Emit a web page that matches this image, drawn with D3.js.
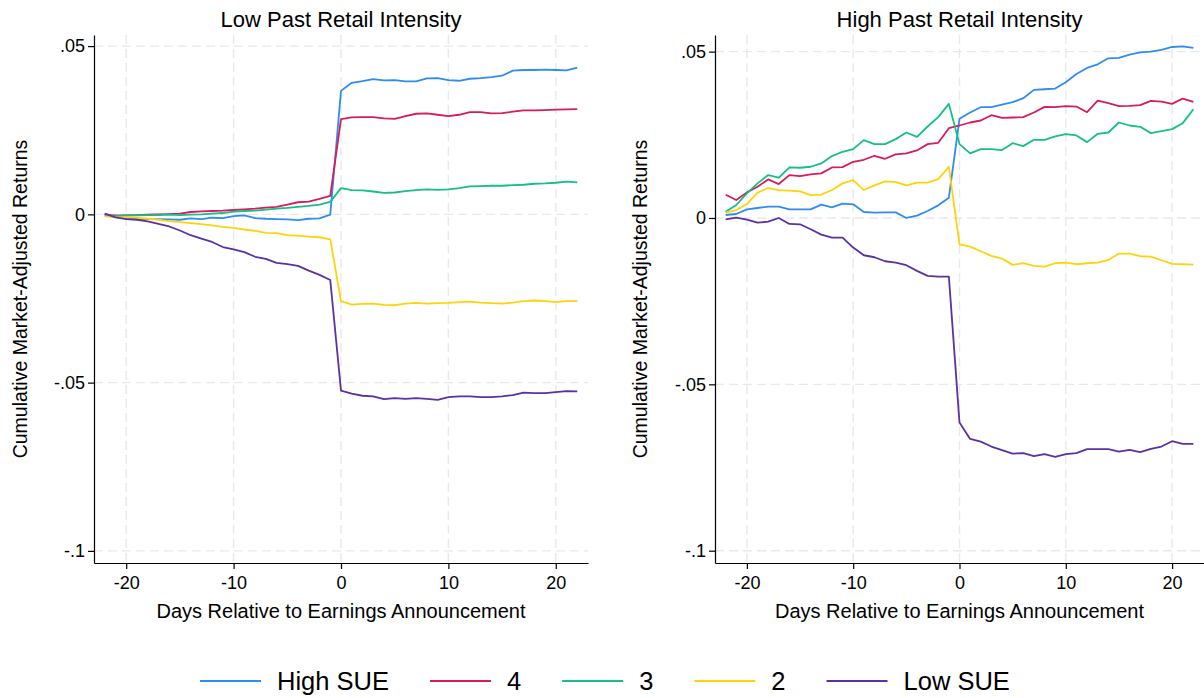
<!DOCTYPE html>
<html>
<head>
<meta charset="utf-8">
<script src="https://cdn.jsdelivr.net/npm/d3@7"></script>
<style>
  body { margin: 0; background: #fff; }
  svg { display: block; font-family: "Liberation Sans", Arial, sans-serif; }
  .grid line { stroke: #e9e9e9; stroke-width: 1.4; stroke-dasharray: 9,5; }
  .axis path, .axis line { stroke: #000; stroke-width: 1.2; }
  .axis text { font-size: 18px; fill: #000; }
  .series { fill: none; stroke-width: 1.8; stroke-linejoin: round; }
</style>
</head>
<body>
<svg id="chart" width="1204" height="698"></svg>
<script>
// days relative to announcement
var days = [-22, -21, -20, -19, -18, -17, -16, -15, -14, -13, -12, -11, -10, -9, -8, -7, -6, -5, -4, -3, -2, -1,
  0, 1, 2, 3, 4, 5, 6, 7, 8, 9, 10, 11, 12, 13, 14, 15, 16, 17, 18, 19, 20, 21, 22];

var xTicks = [-20, -10, 0, 10, 20];
var xTickLabels = ["-20", "-10", "0", "10", "20"];
var yTicks = [0.05, 0, -0.05, -0.1];
var yTickLabels = [".05", "0", "-.05", "-.1"];

var groups = ["High SUE", "4", "3", "2", "Low SUE"];
var colors = ["#2f8cf5", "#d81b5c", "#16bf84", "#ffd30a", "#5b31a3"];

// low past retail intensity
var lowHigh = [0.0002, -0.0008, -0.0011, -0.0013, -0.0014, -0.0014, -0.0015, -0.0016, -0.0012, -0.0014, -0.0010, -0.0011, -0.0005, -0.0003, -0.0011, -0.0013, -0.0014, -0.0015, -0.0017, -0.0013, -0.0012, -0.0001,
  0.0367, 0.0391, 0.0396, 0.0402, 0.0398, 0.0399, 0.0395, 0.0395, 0.0404, 0.0405, 0.0399, 0.0397, 0.0403, 0.0405, 0.0408, 0.0412, 0.0427, 0.0429, 0.0429, 0.0430, 0.0429, 0.0428, 0.0436];
var low4 = [-0.0002, -0.0003, -0.0003, -0.0002, -0.0001, 0.0000, 0.0001, 0.0002, 0.0007, 0.0009, 0.0010, 0.0011, 0.0013, 0.0015, 0.0017, 0.0020, 0.0022, 0.0029, 0.0036, 0.0038, 0.0046, 0.0055,
  0.0283, 0.0288, 0.0289, 0.0289, 0.0285, 0.0284, 0.0292, 0.0299, 0.0300, 0.0296, 0.0292, 0.0296, 0.0304, 0.0304, 0.0300, 0.0301, 0.0305, 0.0309, 0.0309, 0.0310, 0.0311, 0.0312, 0.0313];
var low3 = [-0.0004, -0.0005, -0.0003, -0.0003, -0.0002, -0.0002, -0.0001, -0.0002, -0.0001, 0.0000, 0.0002, 0.0004, 0.0008, 0.0010, 0.0011, 0.0014, 0.0017, 0.0019, 0.0022, 0.0025, 0.0029, 0.0037,
  0.0078, 0.0072, 0.0071, 0.0068, 0.0064, 0.0065, 0.0069, 0.0072, 0.0074, 0.0073, 0.0074, 0.0078, 0.0083, 0.0084, 0.0085, 0.0085, 0.0087, 0.0088, 0.0091, 0.0092, 0.0094, 0.0097, 0.0095];
var low2 = [-0.0006, -0.0008, -0.0009, -0.0010, -0.0013, -0.0016, -0.0020, -0.0023, -0.0026, -0.0029, -0.0033, -0.0037, -0.0040, -0.0045, -0.0049, -0.0055, -0.0056, -0.0062, -0.0063, -0.0066, -0.0068, -0.0074,
  -0.0258, -0.0268, -0.0266, -0.0265, -0.0269, -0.0270, -0.0265, -0.0263, -0.0265, -0.0264, -0.0263, -0.0261, -0.0259, -0.0262, -0.0264, -0.0265, -0.0262, -0.0258, -0.0256, -0.0258, -0.0261, -0.0258, -0.0258];
var lowLow = [0.0002, -0.0009, -0.0014, -0.0016, -0.0021, -0.0028, -0.0036, -0.0048, -0.0062, -0.0072, -0.0082, -0.0097, -0.0104, -0.0112, -0.0126, -0.0132, -0.0144, -0.0148, -0.0153, -0.0167, -0.0180, -0.0195,
  -0.0524, -0.0533, -0.0539, -0.0541, -0.0549, -0.0546, -0.0548, -0.0546, -0.0548, -0.0551, -0.0543, -0.0541, -0.0541, -0.0543, -0.0543, -0.0541, -0.0537, -0.0530, -0.0531, -0.0531, -0.0528, -0.0525, -0.0526];

// high past retail intensity
var highHigh = [0.0009, 0.0012, 0.0026, 0.0030, 0.0034, 0.0034, 0.0026, 0.0026, 0.0026, 0.0040, 0.0032, 0.0043, 0.0041, 0.0018, 0.0016, 0.0017, 0.0017, 0.0000, 0.0007, 0.0021, 0.0038, 0.0061,
  0.0298, 0.0317, 0.0333, 0.0333, 0.0341, 0.0348, 0.0360, 0.0385, 0.0387, 0.0389, 0.0408, 0.0433, 0.0451, 0.0462, 0.0480, 0.0481, 0.0491, 0.0498, 0.0500, 0.0505, 0.0514, 0.0516, 0.0511];
var high4 = [0.0070, 0.0054, 0.0077, 0.0094, 0.0116, 0.0102, 0.0129, 0.0126, 0.0131, 0.0134, 0.0152, 0.0153, 0.0169, 0.0175, 0.0187, 0.0178, 0.0191, 0.0194, 0.0203, 0.0222, 0.0226, 0.0270,
  0.0278, 0.0287, 0.0293, 0.0309, 0.0301, 0.0302, 0.0303, 0.0317, 0.0334, 0.0333, 0.0336, 0.0335, 0.0318, 0.0353, 0.0345, 0.0336, 0.0337, 0.0339, 0.0352, 0.0350, 0.0343, 0.0359, 0.0349];
var high3 = [0.0019, 0.0039, 0.0074, 0.0104, 0.0129, 0.0121, 0.0152, 0.0151, 0.0154, 0.0164, 0.0186, 0.0199, 0.0207, 0.0234, 0.0222, 0.0222, 0.0237, 0.0257, 0.0244, 0.0275, 0.0303, 0.0343,
  0.0222, 0.0194, 0.0207, 0.0207, 0.0204, 0.0225, 0.0216, 0.0235, 0.0235, 0.0245, 0.0252, 0.0248, 0.0228, 0.0253, 0.0257, 0.0287, 0.0278, 0.0274, 0.0255, 0.0261, 0.0267, 0.0285, 0.0327];
var high2 = [0.0016, 0.0024, 0.0042, 0.0076, 0.0090, 0.0084, 0.0082, 0.0080, 0.0069, 0.0070, 0.0084, 0.0104, 0.0114, 0.0084, 0.0098, 0.0110, 0.0108, 0.0098, 0.0106, 0.0106, 0.0117, 0.0154,
  -0.0079, -0.0086, -0.0100, -0.0114, -0.0122, -0.0141, -0.0136, -0.0144, -0.0146, -0.0136, -0.0134, -0.0139, -0.0136, -0.0134, -0.0126, -0.0107, -0.0107, -0.0115, -0.0116, -0.0127, -0.0138, -0.0139, -0.0140];
var highLow = [-0.0004, 0.0001, -0.0005, -0.0014, -0.0011, 0.0000, -0.0018, -0.0019, -0.0034, -0.0050, -0.0059, -0.0059, -0.0089, -0.0112, -0.0118, -0.0130, -0.0134, -0.0142, -0.0159, -0.0174, -0.0176, -0.0176,
  -0.0615, -0.0664, -0.0672, -0.0687, -0.0698, -0.0708, -0.0707, -0.0716, -0.0710, -0.0718, -0.0710, -0.0707, -0.0695, -0.0695, -0.0695, -0.0702, -0.0697, -0.0704, -0.0694, -0.0687, -0.0671, -0.0679, -0.0679];

var panels = [
  {title: "Low Past Retail Intensity", left: 94, right: 588, yDomain: [-0.1036, 0.0533], labelX: 27,
   series: [lowHigh, low4, low3, low2, lowLow]},
  {title: "High Past Retail Intensity", left: 715, right: 1204, yDomain: [-0.1037, 0.0550], labelX: 647,
   series: [highHigh, high4, high3, high2, highLow]}
];

var svg = d3.select("#chart");
var top_ = 35, bottom = 563;

panels.forEach(function (p) {
  var x = d3.scaleLinear().domain([-23, 23]).range([p.left, p.right]);
  var y = d3.scaleLinear().domain(p.yDomain).range([bottom, top_]);
  var g = svg.append("g");

  // dashed grid
  var grid = g.append("g").attr("class", "grid");
  grid.selectAll(".gx").data(xTicks).enter().append("line")
    .attr("x1", function (d) { return x(d); }).attr("x2", function (d) { return x(d); })
    .attr("y1", top_).attr("y2", bottom);
  grid.selectAll(".gy").data(yTicks).enter().append("line")
    .attr("x1", p.left).attr("x2", p.right)
    .attr("y1", function (d) { return y(d); }).attr("y2", function (d) { return y(d); });

  var line = d3.line()
    .x(function (d, i) { return x(days[i]); })
    .y(function (d) { return y(d); });

  p.series.forEach(function (s, k) {
    g.append("path")
      .datum(s)
      .attr("class", "series")
      .attr("stroke", colors[k])
      .attr("d", line);
  });

  g.append("g")
    .attr("class", "axis")
    .attr("transform", "translate(0," + bottom + ")")
    .call(d3.axisBottom(x).tickValues(xTicks).tickSize(6).tickPadding(7).tickSizeOuter(0)
      .tickFormat(function (d, i) { return xTickLabels[i]; }));

  g.append("g")
    .attr("class", "axis")
    .attr("transform", "translate(" + p.left + ",0)")
    .call(d3.axisLeft(y).tickValues(yTicks).tickSize(6).tickPadding(3).tickSizeOuter(0)
      .tickFormat(function (d, i) { return yTickLabels[i]; }));

  var cx = x(0);
  g.append("text")
    .attr("x", cx).attr("y", 27)
    .attr("text-anchor", "middle")
    .style("font-size", "22px")
    .text(p.title);

  g.append("text")
    .attr("x", cx).attr("y", 618)
    .attr("text-anchor", "middle")
    .style("font-size", "20px")
    .text("Days Relative to Earnings Announcement");

  g.append("text")
    .attr("transform", "translate(" + p.labelX + "," + ((top_ + bottom) / 2) + ") rotate(-90)")
    .attr("text-anchor", "middle")
    .style("font-size", "19.5px")
    .text("Cumulative Market-Adjusted Returns");
});

// legend
var legend = svg.append("g");
var lx = 200, ly = 681;
groups.forEach(function (name, k) {
  legend.append("line")
    .attr("x1", lx).attr("x2", lx + 61)
    .attr("y1", ly).attr("y2", ly)
    .attr("stroke", colors[k]).attr("stroke-width", 2.2);
  var t = legend.append("text")
    .attr("x", lx + 77).attr("y", ly + 9)
    .style("font-size", "25.5px")
    .text(name);
  lx += 77 + t.node().getComputedTextLength() + 41;
});
</script>
</body>
</html>
